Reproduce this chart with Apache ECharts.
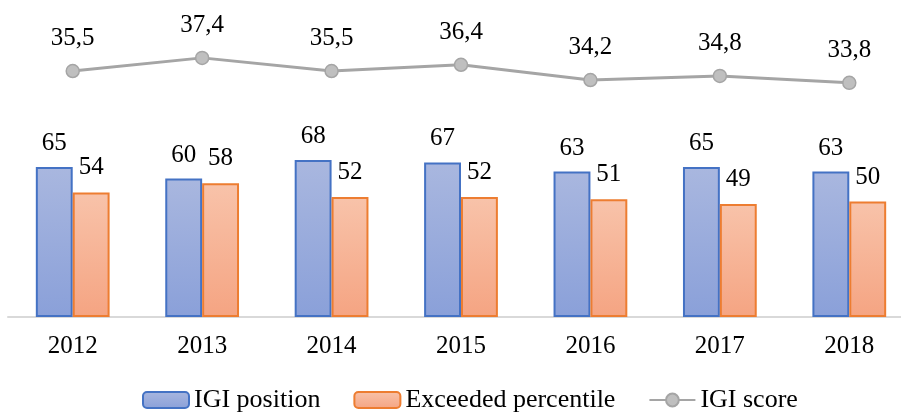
<!DOCTYPE html>
<html>
<head>
<meta charset="utf-8">
<script src="https://cdn.jsdelivr.net/npm/echarts@6/dist/echarts.min.js"></script>
<style>
html, body { margin: 0; padding: 0; background: #fff; }
#chart { width: 901px; height: 412px; }
</style>
</head>
<body>
<div id="chart"></div>
<script>
var years = ['2012', '2013', '2014', '2015', '2016', '2017', '2018'];
var igiPosition = [65, 60, 68, 67, 63, 65, 63];
var exceededPercentile = [54, 58, 52, 52, 51, 49, 50];
var igiScore = [35.5, 37.4, 35.5, 36.4, 34.2, 34.8, 33.8];

var font = '"Liberation Serif", "Times New Roman", serif';

function grad(top, bottom) {
    return new echarts.graphic.LinearGradient(0, 0, 0, 1, [
        { offset: 0, color: top },
        { offset: 1, color: bottom }
    ]);
}

var myChart = echarts.init(document.getElementById('chart'));
var option = {
    animation: false,
    textStyle: { fontFamily: font },
    grid: { left: 8, right: -13, top: 17, bottom: 95, outerBoundsMode: 'none', containLabel: false },
    legend: {
        top: 382,
        left: 137,
        itemWidth: 46,
        itemHeight: 16,
        itemGap: 33,
        textStyle: { fontFamily: font, fontSize: 26, color: '#000' },
        data: ['IGI position', 'Exceeded percentile', 'IGI score']
    },
    xAxis: {
        type: 'category',
        data: years,
        axisLine: { lineStyle: { color: '#D9D9D9', width: 2 } },
        axisTick: { show: false },
        axisLabel: { fontFamily: font, fontSize: 25, color: '#000', margin: 17 }
    },
    yAxis: [
        { type: 'value', min: 0, max: 130, show: false },
        { type: 'value', min: 0, max: 43.3, show: false }
    ],
    series: [
        {
            name: 'IGI position',
            type: 'bar',
            data: igiPosition,
            barGap: '0%',
            barCategoryGap: '43%',
            itemStyle: {
                color: grad('#A9B7DF', '#8AA0D9'),
                borderColor: '#4472C4',
                borderWidth: 2
            },
            label: {
                show: true, position: 'top', distance: 11,
                fontFamily: font, fontSize: 25, color: '#000'
            }
        },
        {
            name: 'Exceeded percentile',
            type: 'bar',
            data: exceededPercentile,
            itemStyle: {
                color: grad('#F8C3AA', '#F5A482'),
                borderColor: '#ED7D31',
                borderWidth: 2
            },
            label: {
                show: true, position: 'top', distance: 12,
                fontFamily: font, fontSize: 25, color: '#000'
            }
        },
        {
            name: 'IGI score',
            type: 'line',
            yAxisIndex: 1,
            data: igiScore,
            symbol: 'circle',
            symbolSize: 13,
            lineStyle: { color: '#A5A5A5', width: 3 },
            itemStyle: { color: '#BFBFBF', borderColor: '#A5A5A5', borderWidth: 1.5 },
            label: {
                show: true, position: 'top', distance: 13,
                fontFamily: font, fontSize: 25, color: '#000',
                formatter: function (p) { return p.value.toFixed(1).replace('.', ','); }
            }
        }
    ]
};
myChart.setOption(option);
</script>
</body>
</html>
